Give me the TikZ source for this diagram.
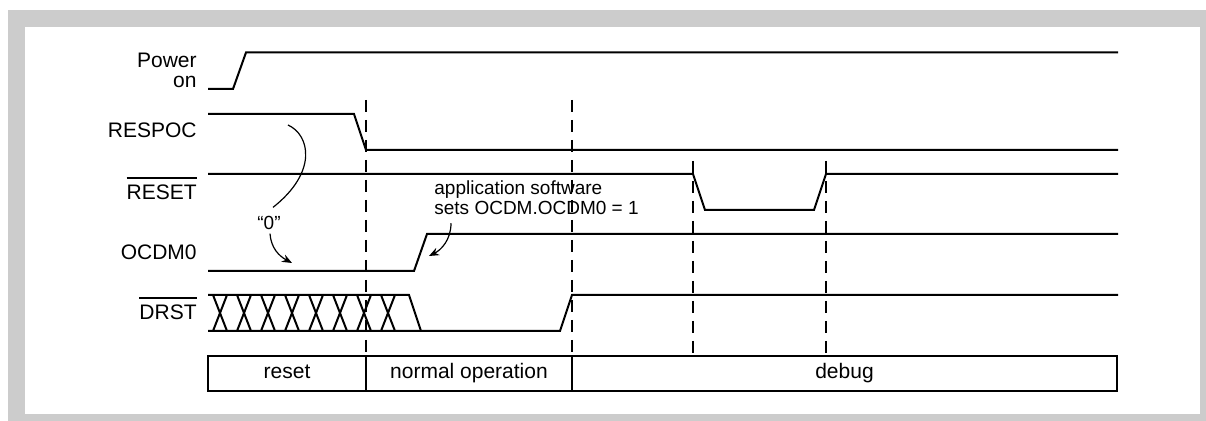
\documentclass[tikz,border=0pt]{standalone}
\usepackage{fontspec}
\setmainfont{Liberation Sans}
\usetikzlibrary{arrows.meta}

\definecolor{framegray}{RGB}{204,204,204}
\newcommand{\lowactive}[1]{\vbox{\hrule height 0.65pt\kern 3.3pt\hbox{#1}}}

\begin{document}
\begin{tikzpicture}[x=0.5pt, y=-0.5pt,
        wave/.style={line width=1pt},
        marker/.style={line width=0.6pt, dash pattern=on 6pt off 4pt},
        siglabel/.style={anchor=base east, inner sep=0pt, font=\fontsize{10.5}{10}\selectfont},
        note/.style={inner sep=0pt, font=\fontsize{9.5}{10.25}\selectfont},
        pointer/.style={line width=0.6pt, -{Stealth[length=5pt, width=4pt]}},
        phase/.style={draw, line width=1pt, inner sep=0pt, outer sep=0pt, minimum height=17.5pt,
                font=\fontsize{10.5}{12}\selectfont, text height=7.6pt, text depth=2.2pt}]
        % Frame
        \useasboundingbox (0,0) rectangle (1206,421);
        \fill[framegray] (8,10) rectangle (1206,421);
        \fill[white] (25,27) rectangle (1200,414);

        % Signal names
        \node[siglabel, anchor=north east, align=right] (power) at (197,53) {Power\\on};
        \node[siglabel] (respoc) at (197,138) {RESPOC};
        \node[siglabel] (reset) at (197,200) {\lowactive{RESET}};
        \node[siglabel] (ocdm) at (197,260) {OCDM0};
        \node[siglabel] (drst) at (197,320) {\lowactive{DRST}};

        % Phases
        \node[phase, minimum width=79pt] (resetphase) at (287,373.5) {reset};
        \node[phase, minimum width=103pt, anchor=west] (normalphase) at (resetphase.east) {normal operation};
        \node[phase, minimum width=272.5pt, anchor=west] (debugphase) at (normalphase.east) {debug};

        % Markers
        \foreach \x/\top in {366/100, 572/100, 693/161, 826/161} {
                \draw[marker] (\x,\top) -- (\x,356);
            }

        % Waveforms
        \draw[wave] (208,89) -- (233,89) -- (246,52.5) -- (1118,52.5);
        \draw[wave] (208,114) -- (354,114) -- (366,150) -- (1118,150);
        \draw[wave] (208,174) -- (693,174) -- (705,210) -- (814,210) -- (826,174) -- (1118,174);
        \draw[wave] (208,271) -- (414,271) -- (427,234) -- (1118,234);
        \draw[wave] (208,295) -- (409,295) -- (421,331);
        \draw[wave] (208,331) -- (560,331) -- (572,295) -- (1118,295);
        \foreach \k in {0,...,7} {
                \draw[wave] (213+24*\k,295) -- (227+24*\k,331);
                \draw[wave] (213+24*\k,331) -- (227+24*\k,295);
            }

        % Notes
        \node[note] (zero) at (269,222.5) {“0”};
        \coordinate (zstart) at (288,125);
        \coordinate (zend) at (292,263);
        \draw[line width=0.6pt] (zstart) .. controls (310,135) and (318,172) .. ([shift={(4,-8)}]zero.north);
        \draw[pointer] ([shift={(1,4)}]zero.south) .. controls (271,248) and (279,256) .. (zend);

        \node[note, anchor=north west, align=left] (appnote) at (434,180) {application software\\sets OCDM.OCDM0 = 1};
        \coordinate (setpoint) at (429,256);
        \draw[pointer] ([shift={(17,8)}]appnote.south west) .. controls (451,240) and (441,250) .. (setpoint);
    \end{tikzpicture}
\end{document}
